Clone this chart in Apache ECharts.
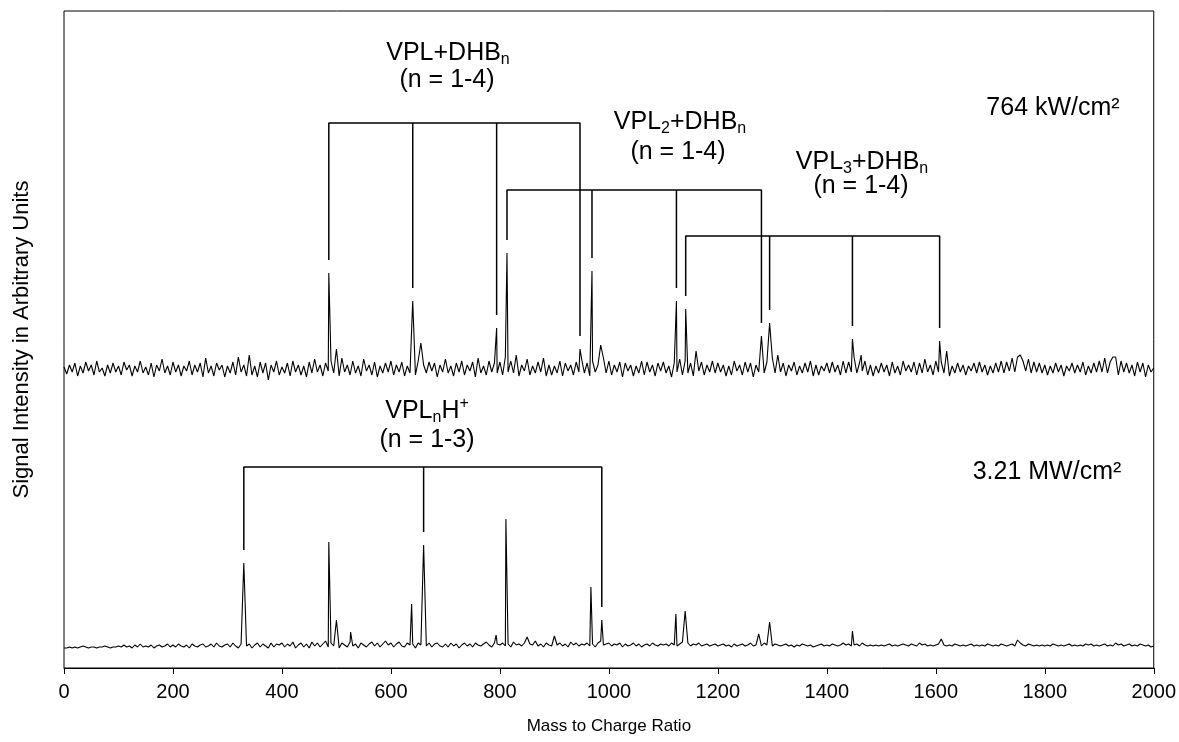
<!DOCTYPE html>
<html>
<head>
<meta charset="utf-8">
<script src="https://cdn.jsdelivr.net/npm/echarts@6/dist/echarts.min.js"></script>
<style>
  html, body { margin: 0; padding: 0; background: #fff; }
  #chart { width: 1179px; height: 742px; }
</style>
</head>
<body>
<div id="chart"></div>
<script>
// m/z sampling step of the baseline arrays
const MZ_STEP = 5;

// Baseline noise, 764 kW/cm² spectrum (m/z 0..2000, one value per 5 m/z)
const noiseTop = [
  2,-5,4,-3,6,-7,3,-4,7,-2,4,-6,8,-3,1,-7,4,-4,6,-3,
  3,-6,7,-1,4,-7,3,-3,8,-4,2,-6,6,-8,4,-2,10,-4,3,-6,
  7,-3,4,-7,3,-2,8,-6,4,-3,6,-8,11,-4,3,-7,6,-1,4,-8,
  3,-4,7,-6,12,-3,4,-7,14,-6,3,-8,7,-4,6,-11,4,-3,8,-6,
  2,-4,6,-7,8,-3,4,-6,3,-8,7,-4,10,-3,4,-7,6,-2,8,-4,
  6,-7,11,-3,4,-6,8,-4,3,-7,10,-2,4,-6,7,-8,3,-4,6,-3,
  8,-6,4,-3,7,-7,3,-4,12,-6,8,-3,4,-4,7,-2,6,-8,4,-3,
  10,-4,3,-7,6,-3,8,-6,4,-2,7,-8,11,-4,3,-6,8,-3,6,-4,
  7,-6,12,-3,8,-4,6,-7,4,-2,10,-6,3,-4,7,-3,11,-7,4,-6,
  3,-4,8,-7,6,-2,4,-6,7,-3,10,-4,6,-7,8,-3,4,-6,11,-4,
  8,-6,4,-3,7,-8,6,-2,4,-7,3,-4,8,-6,7,-3,4,-7,6,-2,
  7,-4,3,-8,6,-3,10,-6,8,-4,6,-7,3,-2,7,-6,4,-3,8,-4,
  6,-3,4,-7,3,-6,8,-2,4,-6,7,-3,6,-8,4,-3,10,-4,7,-6,
  11,-4,8,-3,6,-7,4,-2,7,-6,3,-4,6,-3,8,-7,4,-6,3,-2,
  6,-4,7,-3,4,-6,8,-4,7,-3,12,-4,6,-2,8,-6,4,-7,3,-4,
  6,-3,4,-7,7,-4,3,-6,8,-2,4,-3,7,-6,6,-4,10,-3,4,-6,
  8,-3,7,-4,6,-7,3,-4,6,-3,4,-6,3,-2,6,-4,7,-3,4,-6,
  3,-4,6,-3,8,-4,7,-2,11,-3,12,-6,8,-2,10,-4,7,-3,6,-4,
  4,-6,3,-4,6,-3,4,-7,3,-2,6,-4,4,-3,7,-6,3,-4,6,-3,
  8,-3,11,-4,7,-2,12,-6,8,-3,6,-4,4,-7,7,-3,6,-8,4,-3,
  1
];

// Baseline noise, 3.21 MW/cm² spectrum
const noiseBottom = [
  -2,-2,-1,-2,-1,-2,-1,0,-1,-2,-1,-1,-2,-1,-1,0,-1,-2,-1,-1,
  0,-1,1,-1,0,-2,1,-1,2,-1,0,-1,1,-2,0,1,-1,0,2,-1,
  1,-1,2,0,-1,1,-2,2,0,-1,1,2,-1,0,2,-1,3,0,-1,1,
  2,-1,3,0,-2,2,-1,0,2,-2,1,3,-1,2,0,-2,3,-1,2,1,
  3,-1,2,0,4,-2,1,3,-1,2,-2,4,0,3,-1,2,5,-1,3,0,
  2,-2,3,1,-1,4,0,2,-2,3,1,-1,2,4,0,3,-1,2,5,1,
  3,-1,2,4,0,-1,3,1,2,-2,3,1,4,0,3,-1,2,3,0,-1,
  2,-1,3,0,2,-2,1,3,0,2,-1,3,1,0,2,4,1,-1,3,2,
  1,3,0,2,-1,4,1,2,0,3,-1,2,1,5,0,2,-1,3,1,0,
  2,1,3,0,2,-1,4,1,3,0,2,1,3,0,2,-1,3,5,1,2,
  3,0,2,1,3,-1,2,0,1,3,0,2,-1,1,2,0,3,1,0,2,
  1,2,0,3,1,0,2,4,1,3,0,2,1,3,0,1,2,0,1,2,
  0,1,2,0,1,-1,2,0,1,2,0,1,3,0,1,2,0,3,1,2,
  0,2,1,0,1,2,0,1,-1,1,0,2,1,0,1,-1,0,1,2,0,
  1,0,2,1,0,1,3,1,2,0,1,2,0,3,1,0,1,0,1,0,
  1,0,1,2,0,1,0,1,2,1,0,2,1,0,3,1,2,0,1,0,
  1,2,0,1,0,1,0,2,1,0,1,0,1,2,0,1,0,1,0,2,
  1,0,1,0,2,1,0,1,2,0,1,3,1,0,2,1,0,1,0,1,
  0,1,0,2,1,0,1,0,1,2,0,1,0,1,0,2,1,2,0,1,
  0,1,2,0,1,0,3,1,2,0,1,2,0,1,0,2,1,0,1,-1,
  0
];

// Ion peaks: [m/z, intensity above baseline]
const peaksTop = [
  [486, 96], [500, 20], [640, 68], [655, 26], [794, 41], [813, 116],
  [830, 14], [947, 20], [969, 98], [985, 24], [1124, 68], [1141, 60],
  [1160, 18], [1280, 33], [1295, 46], [1310, 14], [1447, 30], [1463, 14],
  [1607, 28], [1620, 18], [1755, 14], [1925, 12]
];
const peaksBottom = [
  [330, 83], [486, 104], [500, 26], [526, 14], [638, 42], [660, 101],
  [793, 11], [811, 127], [850, 9], [900, 10], [967, 59], [987, 26],
  [1123, 32], [1140, 35], [1275, 12], [1295, 24], [1447, 15], [1610, 7],
  [1750, 6]
];

// Assigned ion series (m/z of each member)
const seriesVplDhb  = [486, 640, 794, 947];
const seriesVpl2Dhb = [813, 969, 1124, 1280];
const seriesVpl3Dhb = [1141, 1295, 1447, 1607];
const seriesVplH    = [330, 660, 987];

// x-axis ticks
const xTicks = [0, 200, 400, 600, 800, 1000, 1200, 1400, 1600, 1800, 2000];

// ---- layout ----
const OFFSET_TOP = 299;     // baseline of the upper trace (axis units)
const OFFSET_BOTTOM = 22;   // baseline of the lower trace
const Y_MAX = 657;
const GAP = 13;             // gap between bracket leg and peak apex
const FONT = '"Liberation Sans", Arial, sans-serif';

function buildTrace(noise, peaks, offset) {
  const pts = new Map();
  noise.forEach((v, i) => pts.set(i * MZ_STEP, v));
  peaks.forEach(([mz, h]) => pts.set(mz, h));
  return Array.from(pts.entries())
    .sort((a, b) => a[0] - b[0])
    .map(([mz, v]) => [mz, v + offset]);
}

function bracketData(mzList, peaks, offset, level) {
  const apex = mz => {
    const p = peaks.find(q => q[0] === mz);
    return offset + (p ? p[1] : 0) + GAP;
  };
  const first = mzList[0], last = mzList[mzList.length - 1];
  const data = [[first, apex(first)], [first, level], [last, level], [last, apex(last)]];
  mzList.slice(1, -1).forEach(mz => {
    data.push('-', [mz, level], [mz, apex(mz)]);
  });
  return data;
}

const traceStyle = { color: '#000', width: 1.1 };
const bracketStyle = { color: '#000', width: 1.5 };

function lineSeries(data, style) {
  return {
    type: 'line', data, symbol: 'none', silent: true, animation: false,
    connectNulls: false, lineStyle: style, itemStyle: { color: '#000' }, z: 3
  };
}

const chart = echarts.init(document.getElementById('chart'), null, { renderer: 'canvas' });

const rich = {
  sub: { fontSize: 16, fontFamily: FONT, lineHeight: 12, verticalAlign: 'bottom', fill: '#000' },
  sup: { fontSize: 16, fontFamily: FONT, lineHeight: 12, verticalAlign: 'top', fill: '#000' }
};

function label(x, y, text) {
  return {
    type: 'text', x, y, silent: true, z: 10,
    style: {
      text, rich, fill: '#000', fontSize: 25, fontFamily: FONT, lineHeight: 30,
      align: 'center', verticalAlign: 'middle'
    }
  };
}

chart.setOption({
  backgroundColor: '#fff',
  animation: false,
  grid: {
    left: 64, right: 23, top: 11, bottom: 74,
    show: true, borderColor: '#000', borderWidth: 1, backgroundColor: 'transparent'
  },
  xAxis: {
    type: 'value', min: xTicks[0], max: xTicks[xTicks.length - 1], interval: 200,
    name: 'Mass to Charge Ratio', nameLocation: 'middle', nameGap: 50,
    nameTextStyle: { color: '#000', fontSize: 17, fontFamily: FONT },
    axisLine: { show: true, lineStyle: { color: '#000', width: 1 } },
    axisTick: { show: true, inside: false, length: 6, lineStyle: { color: '#000' } },
    axisLabel: { color: '#000', fontSize: 20, fontFamily: FONT, margin: 14,
                 formatter: v => String(v) },
    splitLine: { show: false }
  },
  yAxis: {
    type: 'value', min: 0, max: Y_MAX,
    name: 'Signal Intensity in Arbitrary Units', nameLocation: 'middle', nameGap: 31,
    nameTextStyle: { color: '#000', fontSize: 22, fontFamily: FONT },
    axisLine: { show: false }, axisTick: { show: false }, axisLabel: { show: false },
    splitLine: { show: false }
  },
  series: [
    lineSeries(buildTrace(noiseTop, peaksTop, OFFSET_TOP), traceStyle),
    lineSeries(buildTrace(noiseBottom, peaksBottom, OFFSET_BOTTOM), traceStyle),
    lineSeries(bracketData(seriesVplDhb, peaksTop, OFFSET_TOP, 545), bracketStyle),
    lineSeries(bracketData(seriesVpl2Dhb, peaksTop, OFFSET_TOP, 478), bracketStyle),
    lineSeries(bracketData(seriesVpl3Dhb, peaksTop, OFFSET_TOP, 432), bracketStyle),
    lineSeries(bracketData(seriesVplH, peaksBottom, OFFSET_BOTTOM, 201), bracketStyle)
  ],
  graphic: [
    label(448, 53, 'VPL+DHB{sub|n}'),
    label(447, 80, '(n = 1-4)'),
    label(680, 122, 'VPL{sub|2}+DHB{sub|n}'),
    label(678, 152, '(n = 1-4)'),
    label(862, 162, 'VPL{sub|3}+DHB{sub|n}'),
    label(861, 186, '(n = 1-4)'),
    label(1053, 108, '764 kW/cm²'),
    label(427, 411, 'VPL{sub|n}H{sup|+}'),
    label(427, 440, '(n = 1-3)'),
    label(1047, 472, '3.21 MW/cm²')
  ]
});
</script>
</body>
</html>
